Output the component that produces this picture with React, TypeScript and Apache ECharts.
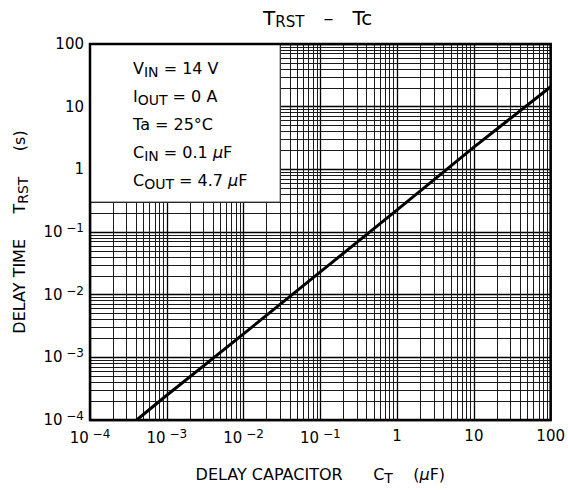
import { useEffect, useRef } from 'react';
import * as echarts from 'echarts';

const FONT = 'DejaVu Sans';

// Curve (C_T in µF, T_RST in s)
const capacitanceUF = [4.05e-4, 1e-3, 1e-2, 1e-1, 1, 10, 100];
const delayTimeS = [1e-4, 2.48e-4, 2.37e-3, 2.31e-2, 0.225, 2.26, 20.8];

const axisMin = 1e-4;
const axisMax = 100;
const decadeExponents = [-4, -3, -2, -1, 0, 1, 2];
const decadeLabels = ['10{sup| −4}', '10{sup| −3}', '10{sup| −2}', '10{sup| −1}', '1', '10', '100'];
const minorMultipliers = [2, 3, 4, 5, 6, 7, 8, 9];

const conditionLines = [
  'V{sub|IN} = 14 V',
  'I{sub|OUT} = 0 A',
  'Ta = 25°C{sub| }',
  'C{sub|IN} = 0.1 {mu|μ}F',
  'C{sub|OUT} = 4.7 {mu|μ}F',
];
const conditionBoxX = [1e-4, 0.03];
const conditionBoxY = [0.3, 100];

function decadeLabel(v: number): string {
  const e = Math.round(Math.log10(v));
  const i = decadeExponents.indexOf(e);
  return i >= 0 ? decadeLabels[i] : '';
}

const minorValues = decadeExponents
  .slice(0, -1)
  .flatMap((e) => minorMultipliers.map((m) => m * Math.pow(10, e)));

const labelRich = {
  sup: { fontSize: 12, fontFamily: FONT, color: '#000', padding: [0, 0, 8, 0] },
};

const condRich = {
  sub: { fontSize: 14, fontFamily: FONT, color: '#000', fontWeight: 'normal', padding: [7, 0, 0, 0] },
  mu: { fontSize: 16, fontFamily: FONT, color: '#000', fontWeight: 'normal', fontStyle: 'italic' },
};

export default function App() {
  const ref = useRef<HTMLDivElement>(null);
  useEffect(() => {
    if (!ref.current) return;
    const chart = echarts.init(ref.current, null, { renderer: 'svg' });
    const option: any = {
      animation: false,
      backgroundColor: '#fff',
      title: [
        {
          text: '{t|T}{s|RST}{t|   –   Tc}',
          left: 263,
          top: 6,
          padding: 0,
          textStyle: {
            fontWeight: 'normal',
            rich: {
              t: { fontSize: 20, fontFamily: FONT, color: '#000', fontWeight: 'normal' },
              s: { fontSize: 15, fontFamily: FONT, color: '#000', fontWeight: 'normal', padding: [8, 0, 0, 0] },
            },
          },
        },
        ...conditionLines.map((t, i) => ({
          text: t,
          left: 133,
          top: 58 + i * 28,
          padding: 0,
          z: 20,
          textStyle: {
            fontSize: 16,
            fontFamily: FONT,
            color: '#000',
            fontWeight: 'normal',
            rich: condRich,
          },
        })),
      ],
      grid: { left: 90, right: 16, top: 44, bottom: 63 },
      xAxis: {
        type: 'log',
        logBase: 10,
        min: axisMin,
        max: axisMax,
        name: 'DELAY CAPACITOR      C{sub|T}    ({mu|μ}F)',
        nameLocation: 'middle',
        nameGap: 44,
        nameTextStyle: {
          fontSize: 16,
          fontFamily: FONT,
          color: '#000',
          rich: condRich,
        },
        axisLine: { show: false },
        axisTick: { show: false },
        axisLabel: {
          formatter: decadeLabel,
          fontSize: 15,
          fontFamily: FONT,
          color: '#000',
          margin: 8,
          showMinLabel: true,
          showMaxLabel: true,
          rich: labelRich,
        },
        splitLine: { show: true, lineStyle: { color: '#000', width: 1.3 } },
      },
      yAxis: {
        type: 'log',
        logBase: 10,
        min: axisMin,
        max: axisMax,
        name: 'DELAY TIME     T{sub|RST}     (s)',
        nameLocation: 'middle',
        nameGap: 60,
        nameTextStyle: {
          fontSize: 16,
          fontFamily: FONT,
          color: '#000',
          rich: condRich,
        },
        axisLine: { show: false },
        axisTick: { show: false },
        axisLabel: {
          formatter: decadeLabel,
          fontSize: 15,
          fontFamily: FONT,
          color: '#000',
          margin: 6,
          showMinLabel: true,
          showMaxLabel: true,
          rich: labelRich,
        },
        splitLine: { show: true, lineStyle: { color: '#000', width: 1.3 } },
      },
      series: [
        {
          type: 'line',
          name: 'minor-grid',
          data: [],
          z: 1,
          silent: true,
          markLine: {
            z: 1,
            silent: true,
            precision: 10,
            symbol: 'none',
            label: { show: false },
            emphasis: { disabled: true },
            lineStyle: { color: '#1a1a1a', width: 1, type: 'solid' },
            data: [
              ...minorValues.map((v) => [{ coord: [v, axisMin] }, { coord: [v, axisMax] }]),
              ...minorValues.map((v) => [{ coord: [axisMin, v] }, { coord: [axisMax, v] }]),
            ],
          },
        },
        {
          type: 'line',
          name: 'conditions-box',
          data: [],
          z: 3,
          silent: true,
          markArea: {
            z: 3,
            silent: true,
            emphasis: { disabled: true },
            itemStyle: { color: '#fff', borderColor: '#333', borderWidth: 1, opacity: 1 },
            data: [[
              { coord: [conditionBoxX[0], conditionBoxY[1]] },
              { coord: [conditionBoxX[1], conditionBoxY[0]] },
            ]],
          },
        },
        {
          type: 'line',
          name: 'TRST',
          z: 5,
          data: capacitanceUF.map((c, i) => [c, delayTimeS[i]]),
          showSymbol: false,
          symbol: 'none',
          lineStyle: { color: '#000', width: 3 },
          silent: true,
        },
      ],
    };
    chart.setOption(option);

    const tl = chart.convertToPixel({ gridIndex: 0 }, [axisMin, axisMax]) as number[];
    const br = chart.convertToPixel({ gridIndex: 0 }, [axisMax, axisMin]) as number[];
    chart.setOption({
      graphic: [
        {
          type: 'rect',
          z: 100,
          silent: true,
          shape: { x: tl[0], y: tl[1], width: br[0] - tl[0], height: br[1] - tl[1] },
          style: { fill: 'none', stroke: '#000', lineWidth: 2.5 },
        },
      ],
    });
    return () => chart.dispose();
  }, []);
  return (
    <div
      ref={ref}
      style={{ position: 'fixed', left: 0, top: 0, width: 568, height: 490, background: '#fff' }}
    />
  );
}
